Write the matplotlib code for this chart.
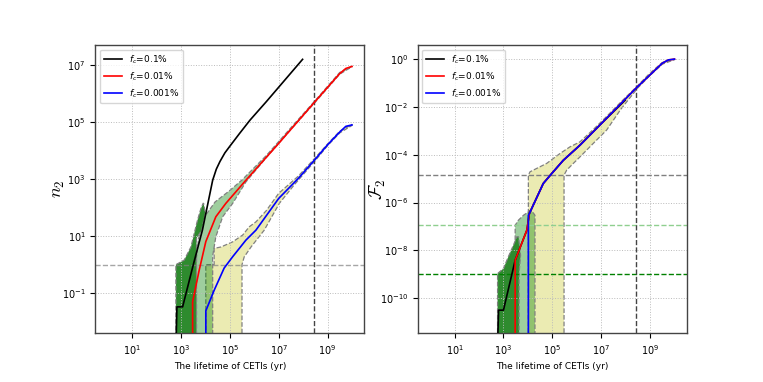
import numpy as np
import matplotlib
matplotlib.use('Agg')
import matplotlib.pyplot as plt
from matplotlib.colors import to_rgba
from matplotlib.ticker import NullLocator

labels = [r'$f_c$=0.1%', r'$f_c$=0.01%', r'$f_c$=0.001%']
colors = ['k', 'r', 'b']

# every number below is log10 of the plotted value
t_max_log = 8.43          # vertical dashed line (yr)

# ---- left panel: n_2 ----
n2_black_x = [2.795, 2.837, 3.07, 3.52, 3.88, 4.3, 4.45, 4.6, 4.8, 5.0, 5.4, 5.83, 6.5, 7.2, 7.98]
n2_black_y = [-3.0, -1.48, -1.48, 0.04, 1.21, 2.96, 3.35, 3.62, 3.92, 4.15, 4.6, 5.07, 5.72, 6.42, 7.2]
n2_red_x = [3.48, 3.48, 3.75, 4.02, 4.43, 4.84, 5.66, 7.0, 8.45, 9.5, 9.75, 10.0]
n2_red_y = [-3.0, -1.3, -0.19, 0.81, 1.68, 2.15, 2.96, 4.25, 5.68, 6.7, 6.88, 6.95]
n2_blue_x = [4.02, 4.02, 4.36, 4.77, 5.12, 5.66, 6.07, 7.0, 7.8, 8.5, 9.0, 9.5, 9.75, 10.0]
n2_blue_y = [-3.0, -1.62, -0.9, -0.12, 0.28, 0.86, 1.21, 2.32, 3.02, 3.7, 4.2, 4.65, 4.85, 4.9]

# bands: left edge (x, y) and right edge (x, y), both bottom -> top
n2_band1_lx = [2.795, 2.795, 3.135, 3.41, 3.545, 3.68, 3.82, 3.91]
n2_band1_ly = [-3.0, 0.0, 0.16, 0.62, 1.09, 1.56, 1.97, 2.15]
n2_band1_rx = [3.64, 3.64, 3.85, 4.0, 3.93]
n2_band1_ry = [-3.0, 0.92, 1.21, 1.8, 2.15]
n2_band2_lx = [3.48, 3.48, 3.62, 3.72, 3.9, 4.4, 5.0, 5.5, 6.5, 7.5, 8.5, 9.5, 10.0]
n2_band2_ly = [-3.0, 0.0, 0.1, 0.9, 1.6, 2.2, 2.6, 2.97, 3.83, 4.8, 5.76, 6.74, 6.96]
n2_band2_rx = [4.3, 4.3, 4.43, 4.71, 5.12, 5.66, 6.5, 7.5, 8.5, 9.5, 10.0]
n2_band2_ry = [-3.0, 0.3, 0.98, 1.68, 2.15, 2.9, 3.76, 4.74, 5.7, 6.68, 6.94]
n2_band3_lx = [4.02, 4.02, 4.36, 4.36, 4.64, 5.12, 5.53, 5.8, 6.07, 6.5, 7.0, 7.8, 8.5, 9.0, 9.5, 10.0]
n2_band3_ly = [-3.0, 0.0, 0.0, 0.57, 0.62, 0.8, 1.04, 1.33, 1.5, 1.9, 2.5, 3.1, 3.75, 4.23, 4.68, 4.92]
n2_band3_rx = [5.5, 5.5, 5.59, 5.87, 6.41, 7.03, 7.64, 8.5, 9.0, 9.5, 10.0]
n2_band3_ry = [-3.0, 0.0, 0.27, 0.62, 1.21, 2.15, 2.8, 3.65, 4.17, 4.62, 4.88]
n2_level = 0.0

# ---- right panel: F_2 ----
F2_black_x = [2.76, 2.8, 3.0, 3.48, 3.96, 4.06, 4.63, 4.98, 5.45, 6.13, 7.0, 7.98]
F2_black_y = [-12.0, -10.5, -10.5, -8.41, -7.15, -6.46, -5.2, -4.78, -4.23, -3.6, -2.7, -1.72]
F2_red_x = [3.48, 3.48, 3.96, 4.06, 4.63, 4.98, 5.45, 6.13, 7.0, 8.41, 9.5, 9.75, 10.0]
F2_red_y = [-12.0, -8.41, -7.15, -6.46, -5.2, -4.78, -4.23, -3.6, -2.7, -1.23, -0.17, -0.03, 0.0]
F2_blue_x = [4.02, 4.02, 4.06, 4.63, 4.98, 5.45, 6.13, 7.0, 8.41, 9.5, 9.75, 10.0]
F2_blue_y = [-12.0, -6.53, -6.46, -5.2, -4.78, -4.23, -3.6, -2.7, -1.23, -0.17, -0.03, 0.0]

F2_band1_lx = [2.76, 2.76, 3.0, 3.2, 3.41, 3.55]
F2_band1_ly = [-12.0, -8.97, -8.76, -8.27, -7.78, -7.43]
F2_band1_rx = [3.64, 3.64, 3.7, 3.62]
F2_band1_ry = [-12.0, -8.97, -8.2, -7.43]
F2_band2_lx = [3.48, 3.48, 3.61, 3.82, 4.02, 4.09]
F2_band2_ly = [-12.0, -6.95, -6.74, -6.53, -6.39, -6.32]
F2_band2_rx = [4.29, 4.29, 4.2, 4.09]
F2_band2_ry = [-12.0, -6.53, -6.4, -6.32]
F2_band3_lx = [4.02, 4.02, 4.09, 4.77, 5.31, 5.72, 6.13, 6.67, 7.22, 7.8, 8.5, 9.0, 9.5, 10.0]
F2_band3_ly = [-12.0, -4.85, -4.71, -4.36, -3.95, -3.67, -3.46, -2.95, -2.4, -1.8, -1.1, -0.58, -0.14, 0.01]
F2_band3_rx = [5.48, 5.48, 5.59, 5.86, 6.13, 6.67, 7.22, 7.8, 8.5, 9.0, 9.5, 10.0]
F2_band3_ry = [-12.0, -4.85, -4.64, -4.36, -4.09, -3.53, -2.97, -2.1, -1.2, -0.68, -0.21, -0.02]
F2_levels = [-4.85, -6.95, -8.97]

band_colors = [('#2e8b2e', 1.0), ('green', 0.38), ('y', 0.3)]
level_colors = ['gray', '#8fcf8f', 'green']


def p10(a):
    return np.power(10.0, np.asarray(a, dtype=float))


def band(ax, lx, ly, rx, ry, color, alpha):
    x = np.concatenate([p10(lx), p10(rx)[::-1]])
    y = np.concatenate([p10(ly), p10(ry)[::-1]])
    ax.fill(x, y, facecolor=to_rgba(color, alpha), edgecolor='gray',
            ls='--', lw=0.9, zorder=1)


def style(ax, yticks, ylim):
    ax.set_xscale('log')
    ax.set_yscale('log')
    ax.set_xlim(10**-0.5, 10**10.5)
    ax.set_ylim(*ylim)
    ax.set_xticks([1e1, 1e3, 1e5, 1e7, 1e9])
    ax.set_yticks(yticks)
    ax.xaxis.set_minor_locator(NullLocator())
    ax.yaxis.set_minor_locator(NullLocator())
    ax.tick_params(labelsize=7)
    ax.grid(True, ls=':', color='#bbbbbb', lw=0.7)
    for sp in ax.spines.values():
        sp.set_color('#444444')
        sp.set_linewidth(1.0)
    ax.set_xlabel('The lifetime of CETIs (yr)', fontsize=6.5)
    ax.legend(loc='upper left', fontsize=6.5)


fig, (ax1, ax2) = plt.subplots(1, 2, figsize=(7.63, 3.82), dpi=100)
fig.subplots_adjust(left=0.125, right=0.9, top=0.882, bottom=0.128, wspace=0.2)

# left
n2_bands = [(n2_band3_lx, n2_band3_ly, n2_band3_rx, n2_band3_ry),
            (n2_band2_lx, n2_band2_ly, n2_band2_rx, n2_band2_ry),
            (n2_band1_lx, n2_band1_ly, n2_band1_rx, n2_band1_ry)]
for b, (c, a) in zip(n2_bands, band_colors[::-1]):
    band(ax1, *b, c, a)
ax1.axhline(p10(n2_level), color='gray', ls='--', lw=1, alpha=0.7, zorder=2)
ax1.axvline(p10(t_max_log), color='#444444', ls='--', lw=1, zorder=2)
for (x, y), c, lab in zip([(n2_black_x, n2_black_y), (n2_red_x, n2_red_y), (n2_blue_x, n2_blue_y)], colors, labels):
    ax1.plot(p10(x), p10(y), color=c, lw=1.2, label=lab, zorder=3)
style(ax1, [1e-1, 1e1, 1e3, 1e5, 1e7], (10**-2.4, 10**7.7))
ax1.set_ylabel(r'$n_2$', fontsize=13, math_fontfamily='cm', labelpad=-4)

# right
F2_bands = [(F2_band3_lx, F2_band3_ly, F2_band3_rx, F2_band3_ry),
            (F2_band2_lx, F2_band2_ly, F2_band2_rx, F2_band2_ry),
            (F2_band1_lx, F2_band1_ly, F2_band1_rx, F2_band1_ry)]
for b, (c, a) in zip(F2_bands, band_colors[::-1]):
    band(ax2, *b, c, a)
for lv, c in zip(F2_levels, level_colors):
    ax2.axhline(p10(lv), color=c, ls='--', lw=1, zorder=2)
ax2.axvline(p10(t_max_log), color='#444444', ls='--', lw=1, zorder=2)
for (x, y), c, lab in zip([(F2_black_x, F2_black_y), (F2_red_x, F2_red_y), (F2_blue_x, F2_blue_y)], colors, labels):
    ax2.plot(p10(x), p10(y), color=c, lw=1.2, label=lab, zorder=3)
style(ax2, [1e0, 1e-2, 1e-4, 1e-6, 1e-8, 1e-10], (10**-11.46, 10**0.59))
ax2.set_ylabel(r'$\mathcal{F}_2$', fontsize=13, math_fontfamily='cm', labelpad=-6)

fig.savefig('out.png', dpi=100)
